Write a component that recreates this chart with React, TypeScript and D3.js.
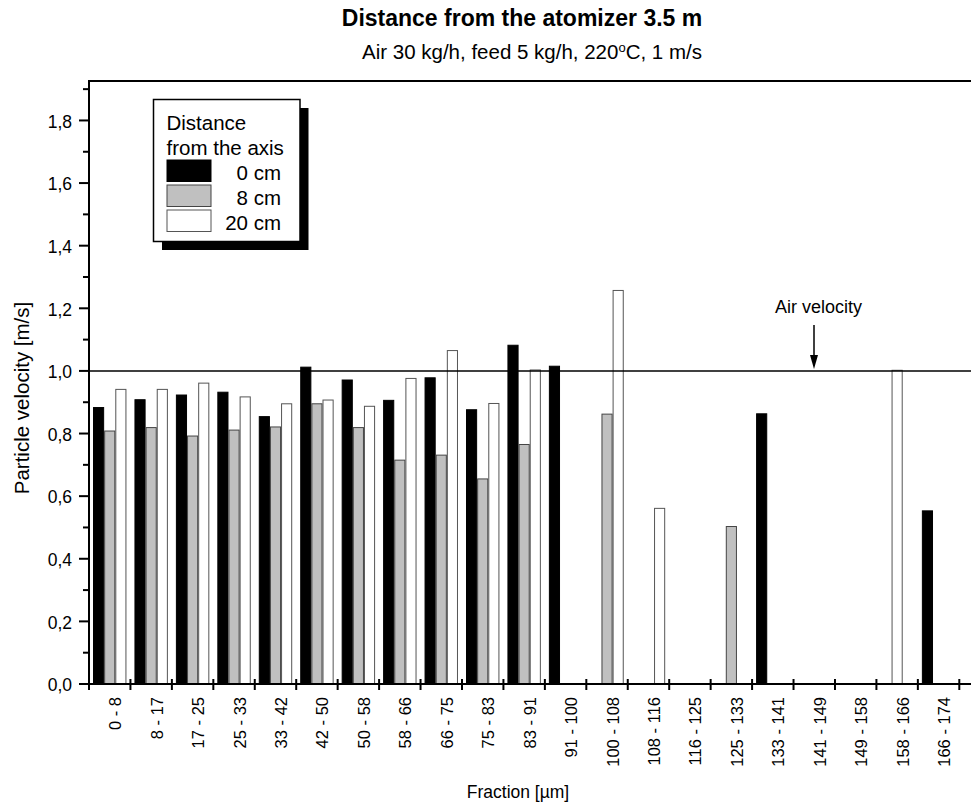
import React from 'react';
import * as d3 from 'd3';

// fractions [µm]
const categories = [
  '0 - 8', '8 - 17', '17 - 25', '25 - 33', '33 - 42', '42 - 50', '50 - 58',
  '58 - 66', '66 - 75', '75 - 83', '83 - 91', '91 - 100', '100 - 108',
  '108 - 116', '116 - 125', '125 - 133', '133 - 141', '141 - 149',
  '149 - 158', '158 - 166', '166 - 174'
];

// particle velocity [m/s] at distance from the axis
const cm0 = [0.883, 0.908, 0.923, 0.932, 0.854, 1.012, 0.971, 0.906, 0.978, 0.876, 1.082,
  1.015, null, null, null, null, 0.863, null, null, null, 0.553];
const cm8 = [0.808, 0.819, 0.792, 0.811, 0.821, 0.895, 0.819, 0.715, 0.731, 0.655, 0.765,
  null, 0.862, null, null, 0.503, null, null, null, null, null];
const cm20 = [0.941, 0.941, 0.961, 0.917, 0.895, 0.907, 0.887, 0.976, 1.065, 0.896, 1.003,
  null, 1.257, 0.561, null, null, null, null, null, 1.002, null];

const seriesKeys = ['0 cm', '8 cm', '20 cm'];
const seriesValues = [cm0, cm8, cm20];
const yTicks = [0, 0.2, 0.4, 0.6, 0.8, 1.0, 1.2, 1.4, 1.6, 1.8];
const yMinorTicks = [0.1, 0.3, 0.5, 0.7, 0.9, 1.1, 1.3, 1.5, 1.7, 1.9];
const airVelocity = 1.0;

const fills: Record<string, string> = { '0 cm': '#000', '8 cm': '#c0c0c0', '20 cm': '#fff' };
const strokes: Record<string, string> = { '0 cm': '#000', '8 cm': '#444', '20 cm': '#555' };

const FONT = '"Liberation Sans", Arial, Helvetica, sans-serif';

export default function App() {
  const width = 971, height = 806;
  const left = 89, right = 959.3, top = 81, bottom = 684;

  const x = d3.scaleBand<string>().domain(categories).range([left, right]).padding(0);
  const x1 = d3.scaleBand<string>().domain(seriesKeys).range([0, x.bandwidth()]).paddingInner(0).paddingOuter(0.36);
  const y = d3.scaleLinear().domain([0, 1.926]).range([bottom, top]);
  const fmt = (v: number) => d3.format('.1f')(v).replace('.', ',');

  // the lone 20 cm bar in 158-166 sits in the middle slot in the original
  const slotFor = (cat: string, key: string) =>
    cat === '158 - 166' && key === '20 cm' ? '8 cm' : key;

  const bars: { cat: string; key: string; v: number }[] = [];
  categories.forEach((cat, i) => {
    seriesKeys.forEach((key, s) => {
      const v = seriesValues[s][i];
      if (v != null) bars.push({ cat, key, v });
    });
  });

  const boundaries = categories.map(c => x(c)!).concat([right]);
  const yAir = y(airVelocity);
  const arrowX = 814;

  return (
    <svg width={width} height={height} style={{ position: 'absolute', left: 0, top: 0, background: '#fff' }}
      fontFamily={FONT}>
      <rect width={width} height={height} fill="#fff" />

      {/* titles */}
      <text x={522} y={26} textAnchor="middle" fontSize={23} fontWeight="bold">
        Distance from the atomizer 3.5 m
      </text>
      <text x={532} y={59} textAnchor="middle" fontSize={20.5}>
        Air 30 kg/h, feed 5 kg/h, 220<tspan dy={-7} fontSize={13}>o</tspan><tspan dy={7}>C, 1 m/s</tspan>
      </text>

      {/* bars */}
      <g>
        {bars.map((b, i) => (
          <rect key={i}
            x={x(b.cat)! + x1(slotFor(b.cat, b.key))! + 0.5}
            y={y(b.v)}
            width={x1.bandwidth() - 1}
            height={bottom - y(b.v)}
            fill={fills[b.key]}
            stroke={strokes[b.key]}
            strokeWidth={1} />
        ))}
      </g>

      {/* air velocity */}
      <line x1={left} x2={width} y1={yAir} y2={yAir} stroke="#000" strokeWidth={1.5} />
      <text x={818.5} y={313} textAnchor="middle" fontSize={18}>Air velocity</text>
      <line x1={arrowX} x2={arrowX} y1={325} y2={357} stroke="#000" strokeWidth={1.5} />
      <path d={`M${arrowX - 4},${355} L${arrowX + 4},${355} L${arrowX},${369} Z`} fill="#000" />

      {/* frame */}
      <line x1={left} x2={width} y1={top} y2={top} stroke="#000" strokeWidth={2} />
      <line x1={left} x2={left} y1={top - 1} y2={bottom + 1} stroke="#000" strokeWidth={2} />
      <line x1={left - 1} x2={width} y1={bottom} y2={bottom} stroke="#000" strokeWidth={2} />

      {/* y axis */}
      {yTicks.map(t => (
        <g key={t}>
          <line x1={79} x2={left} y1={y(t)} y2={y(t)} stroke="#000" strokeWidth={2} />
          <text x={72} y={y(t)} dy="0.42em" textAnchor="end" fontSize={17.5}>{fmt(t)}</text>
        </g>
      ))}
      {yMinorTicks.map(t => (
        <line key={t} x1={83} x2={left} y1={y(t)} y2={y(t)} stroke="#000" strokeWidth={2} />
      ))}
      <text transform={`translate(28.5,398) rotate(-90)`} textAnchor="middle" fontSize={20.5}>
        Particle velocity [m/s]
      </text>

      {/* x axis */}
      {boundaries.map((b, i) => (
        <line key={i} x1={b} x2={b} y1={679} y2={690} stroke="#000" strokeWidth={2} />
      ))}
      {categories.map(c => (
        <text key={c} transform={`translate(${x(c)! + x.bandwidth() / 2 + 11.5},697) rotate(-90)`}
          textAnchor="end" fontSize={16.5}>{c}</text>
      ))}
      <text x={518} y={798} textAnchor="middle" fontSize={17.5}>Fraction [µm]</text>

      {/* legend */}
      <g>
        <rect x={162} y={108} width={146.5} height={142} fill="#000" />
        <rect x={153.5} y={99.5} width={146.5} height={142} fill="#fff" stroke="#000" strokeWidth={1.5} />
        <text x={166.5} y={130} fontSize={20.5}>Distance</text>
        <text x={166.5} y={155} fontSize={20.5}>from the axis</text>
        {seriesKeys.map((k, i) => (
          <g key={k}>
            <rect x={167} y={160 + i * 25} width={44} height={21.5}
              fill={fills[k]} stroke={strokes[k]} strokeWidth={1} />
            <text x={281} y={180 + i * 25} textAnchor="end" fontSize={20.5}>{k}</text>
          </g>
        ))}
      </g>
    </svg>
  );
}
